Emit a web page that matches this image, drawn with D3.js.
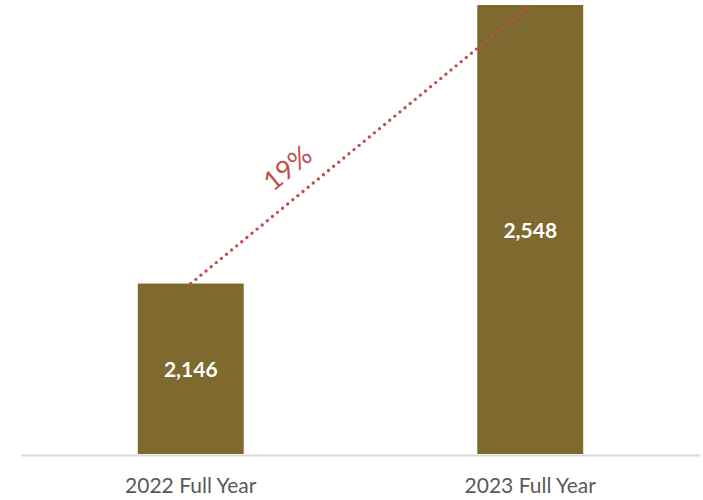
<!DOCTYPE html>
<html>
<head>
<meta charset="utf-8">
<script src="https://cdn.jsdelivr.net/npm/d3@7"></script>
<style>
  html, body { margin: 0; padding: 0; background: #fff; }
  svg { display: block; }
</style>
</head>
<body>
<div id="chart"></div>
<script>
// Full-year totals, two periods
const categories = ["2022 Full Year", "2023 Full Year"];
const values = [2146, 2548];
const growthLabel = "19%";
const yDomain = [1900, 2550];

const width = 703, height = 500;
const plot = { left: 21, right: 700, top: 3.6, bottom: 454 };

const svg = d3.select("#chart").append("svg")
  .attr("width", width)
  .attr("height", height);

const x = d3.scaleBand()
  .domain(categories)
  .range([plot.left, plot.right])
  .paddingInner(0.688)
  .paddingOuter(0.344);

const y = d3.scaleLinear()
  .domain(yDomain)
  .range([plot.bottom, plot.top]);

const data = categories.map((c, i) => ({ cat: c, value: values[i] }));

// Bars
svg.append("g").selectAll("rect")
  .data(data)
  .join("rect")
  .attr("x", d => x(d.cat))
  .attr("y", d => y(d.value))
  .attr("width", x.bandwidth())
  .attr("height", d => y(yDomain[0]) - y(d.value))
  .attr("fill", "#7E6A2E");

// Value labels in the middle of each bar
svg.append("g").selectAll("text")
  .data(data)
  .join("text")
  .attr("x", d => x(d.cat) + x.bandwidth() / 2)
  .attr("y", d => (y(d.value) + y(yDomain[0])) / 2)
  .attr("text-anchor", "middle")
  .attr("dominant-baseline", "central")
  .attr("font-family", "Lato, 'Open Sans', sans-serif")
  .attr("font-weight", 700)
  .attr("font-size", 21)
  .attr("fill", "#ffffff")
  .text(d => d3.format(",")(d.value));

// Category axis
const xAxis = svg.append("g")
  .attr("transform", `translate(0,${plot.bottom + 1})`)
  .call(d3.axisBottom(x).tickSize(0).tickPadding(23));
xAxis.select(".domain")
  .attr("stroke", "#d9d9d9")
  .attr("stroke-width", 2);
xAxis.selectAll("text")
  .attr("font-family", "Lato, 'Open Sans', sans-serif")
  .attr("font-size", 21)
  .attr("fill", "#595959");

// Dotted growth connector between bar tops
const p0 = [x(categories[0]) + x.bandwidth() / 2, y(values[0])];
const p1 = [x(categories[1]) + x.bandwidth() / 2, y(values[1])];
svg.append("line")
  .attr("x1", p0[0]).attr("y1", p0[1])
  .attr("x2", p1[0]).attr("y2", p1[1])
  .attr("stroke", "#C0504D")
  .attr("stroke-width", 3.4)
  .attr("stroke-linecap", "round")
  .attr("stroke-dasharray", "0 6.6");

// Growth label, rotated along the connector
const dx = p1[0] - p0[0], dy = p1[1] - p0[1];
const len = Math.hypot(dx, dy);
const ux = dx / len, uy = dy / len;
const nx = uy, ny = -ux; // normal pointing up-left
const t = 0.337, off = 29;
const lx = p0[0] + dx * t + nx * off;
const ly = p0[1] + dy * t + ny * off;
const angle = Math.atan2(dy, dx) * 180 / Math.PI;
svg.append("text")
  .attr("transform", `translate(${lx},${ly}) rotate(${angle})`)
  .attr("text-anchor", "middle")
  .attr("dominant-baseline", "central")
  .attr("font-family", "Lato, 'Open Sans', sans-serif")
  .attr("font-weight", 400)
  .attr("font-size", 27)
  .attr("fill", "#C0504D")
  .text(growthLabel);
</script>
</body>
</html>
